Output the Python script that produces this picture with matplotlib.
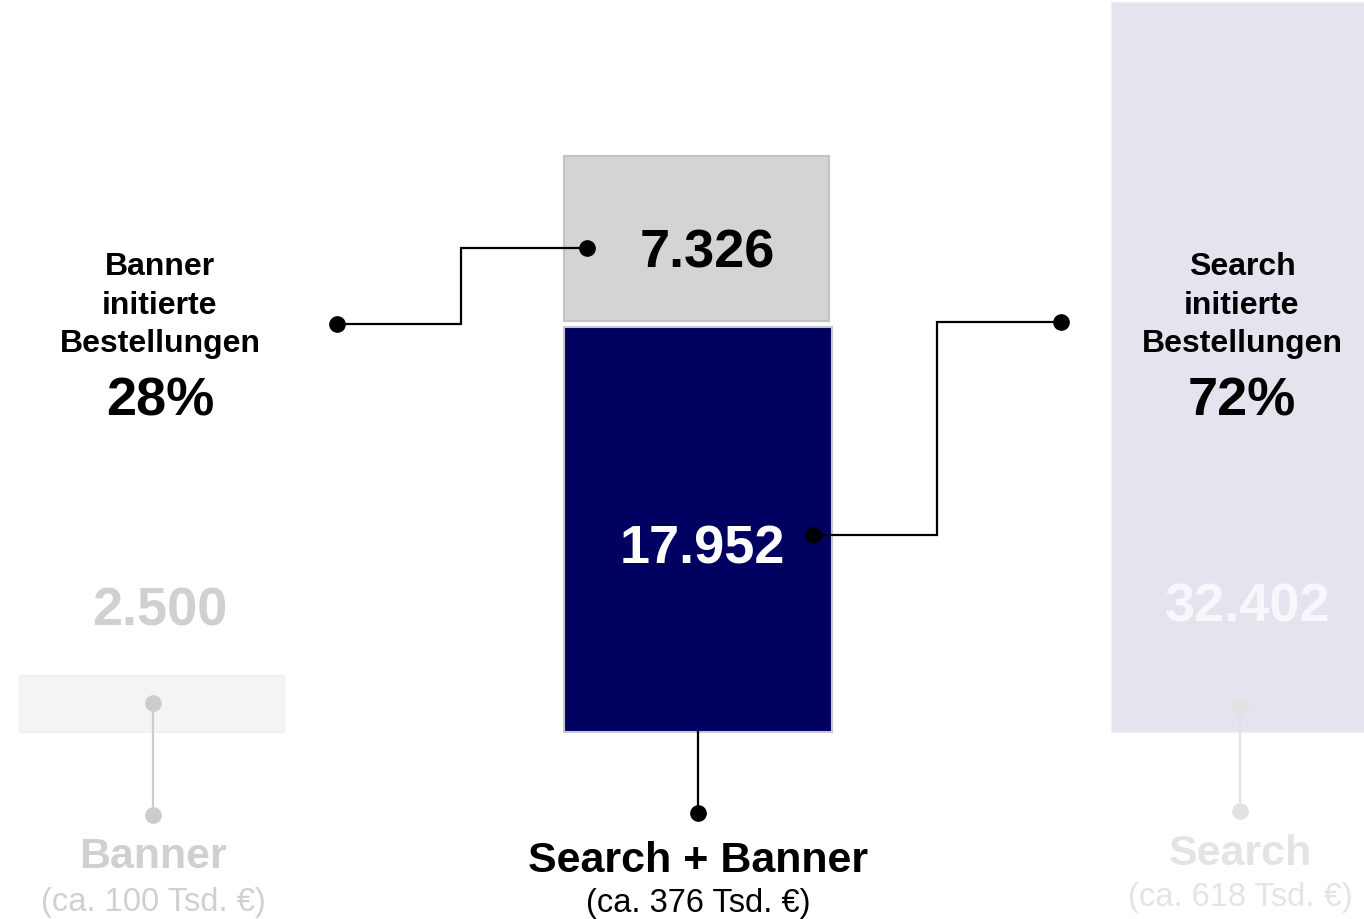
import matplotlib
matplotlib.use("Agg")
import matplotlib.pyplot as plt

plt.rcParams['font.family'] = ['Liberation Sans', 'DejaVu Sans']

# Bestellungen je Kanal
banner_value = 2500
search_value = 32402
combined_search = 17952
combined_banner = 7326

banner_share = "28%"
search_share = "72%"

group_labels = ["Banner", "Search + Banner", "Search"]
group_budgets = ["(ca. 100 Tsd. €)", "(ca. 376 Tsd. €)", "(ca. 618 Tsd. €)"]


def fmt(v):
    return f"{v:,}".replace(",", ".")


# layout: x in pixels, y in Bestellungen; baseline of the bars at pixel row 731
W, H = 1364, 919
BASE = 731.5
SCALE = 44.4   # orders per pixel


def py(row):
    # pixel row (from top) -> data y
    return (BASE - row) * SCALE


fig = plt.figure(figsize=(W / 100, H / 100), dpi=100)
ax = fig.add_axes([0, 0, 1, 1])
ax.set_xlim(0, W)
ax.set_ylim(py(H), py(0))
ax.axis('off')

gap = 6 * SCALE

# bars
ax.bar(151.5, banner_value, width=265, color='#f4f4f4', edgecolor='#f0f0f0', linewidth=1)
ax.bar(1243.5, search_value, width=265, color='#e4e4ee', edgecolor='#f0f0f4', linewidth=1)
ax.bar(698, combined_search, width=268, color='#000060', edgecolor='#c8c8c8', linewidth=1.5)
ax.bar(696.5, combined_banner, width=265, bottom=combined_search + gap,
       color='#d4d4d4', edgecolor='#c4c4c4', linewidth=1.5)

# value labels
num = dict(fontsize=39, fontweight='bold', ha='center', va='baseline')
ax.text(160, py(625), fmt(banner_value), color='#d0d0d0', **num)
ax.text(1248, py(621), fmt(search_value), color='#f8f8fc', **num)
ax.text(702, py(563), fmt(combined_search), color='white', **num)
ax.text(707, py(267), fmt(combined_banner), color='black', **num)

# share annotations
lab = dict(fontsize=23, fontweight='bold', ha='center', va='baseline', color='black')
for i, line in enumerate(["Banner", "initierte", "Bestellungen"]):
    ax.text(160, py(275 + 38.5 * i), line, **lab)
for i, line in enumerate(["Search", "initierte", "Bestellungen"]):
    ax.text(1242, py(275 + 38.5 * i), line, **lab)
ax.text(160, py(415), banner_share, **num, color='black')
ax.text(1242, py(415), search_share, **num, color='black')

# connectors
lk = dict(color='black', linewidth=1.6, solid_joinstyle='miter')
ax.plot([337, 461, 461, 587], [py(324), py(324), py(248), py(248)], **lk)
ax.plot([337, 587], [py(324), py(248)], 'o', color='black', markersize=11, linestyle='none')
ax.plot([813, 937, 937, 1061], [py(535), py(535), py(322), py(322)], **lk)
ax.plot([813, 1061], [py(535), py(322)], 'o', color='black', markersize=11, linestyle='none')

ax.plot([698, 698], [0, py(813)], **lk)
ax.plot(698, py(813), 'o', color='black', markersize=11)

ax.plot([153, 153], [py(703), py(815)], color='#cccccc', linewidth=1.6)
ax.plot([153, 153], [py(703), py(815)], 'o', color='#cccccc', markersize=11, linestyle='none')
ax.plot([1240, 1240], [py(705), py(811)], color='#e2e2e2', linewidth=1.6)
ax.plot([1240, 1240], [py(705), py(811)], 'o', color='#e2e2e2', markersize=11, linestyle='none')

# group labels
title_cols = ['#d0d0d0', 'black', '#e4e4e4']
title_x = [153, 698, 1240]
title_rows = [868, 872, 865]
sub_rows = [911, 912, 906]
for lbl, bud, x, r1, r2, c in zip(group_labels, group_budgets, title_x, title_rows, sub_rows, title_cols):
    ax.text(x, py(r1), lbl, fontsize=31, fontweight='bold', ha='center', va='baseline', color=c)
    ax.text(x, py(r2), bud, fontsize=23.5, ha='center', va='baseline', color=c)

fig.savefig('out.png', dpi=100, facecolor='white')
